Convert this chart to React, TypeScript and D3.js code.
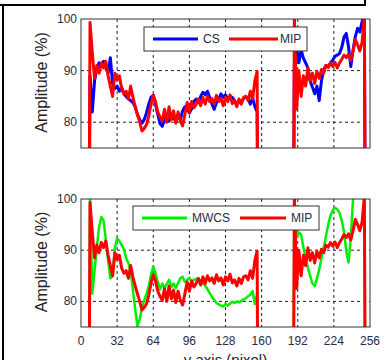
import React from "react";
import * as d3 from "d3";

// pixel positions along the y axis (two segments with signal)
const pixelsLeft = d3.range(6, 159, 2);
const pixelsRight = d3.range(187, 254, 2);

const xTicks = [0, 32, 64, 96, 128, 160, 192, 224, 256];
const yTicks = [80, 90, 100];

// MIP amplitude (%) - same curve in both panels
const mipLeft = [
  0, 99.3, 93.5, 88.5, 91, 89.5, 91.5, 90.5, 91.8, 89,
  87, 85, 89.5, 88.2, 89, 86.5, 85.5, 86, 84.5, 87,
  84.8, 83, 81.5, 80, 78.3, 78.8, 79.5, 81.2, 83.5, 85.2,
  84, 82, 81, 80.2, 82.5, 80, 83, 80.5, 82.2, 79.8,
  82, 80.2, 79.3, 81.5, 83.8, 82, 84, 82.8, 83.5, 84.5,
  83.2, 84.8, 83.5, 85, 84, 84.6, 83.5, 85.2, 84, 84.6,
  83.2, 84.8, 84, 85.3, 83.6, 84.2, 83, 84.5, 83.5, 84.8,
  85, 84.2, 86, 84.5, 88, 89.8, 0,
];
const mipRight = [
  0, 101, 82.5, 90, 85, 89, 87, 90.5, 88, 89.5,
  87.5, 89.8, 88.5, 90.2, 89.5, 91, 90.6, 91.5, 90.8, 91.6,
  90.5, 91.5, 92.2, 93, 92.5, 93.2, 92, 93.8, 96, 95,
  93.8, 95.5, 100.5, 0,
];

// CS amplitude (%)
const csLeft = [
  0, 89, 82, 88, 90.5, 91.5, 91, 91.8, 90.5, 89.5,
  92.5, 87.5, 86.5, 87, 86, 86.8, 85.5, 85, 84.5, 84.2,
  83.8, 83, 81.5, 80.5, 79.8, 80.5, 81.8, 83.5, 84.8, 85.2,
  83.5, 81.5, 79.7, 79.2, 80.5, 81, 80.2, 81.5, 80.8, 80.2,
  81.2, 80.5, 82.2, 83, 82.5, 81.8, 82.6, 84, 84.5, 83.8,
  85, 85.8, 85.3, 86, 84.8, 83.5, 82.5, 83.8, 84.5, 85.5,
  84.8, 85.3, 84.5, 85, 84.8, 84.2, 83.5, 84, 83.8, 84.6,
  85, 84.5, 83.5, 84.8, 83, 82, 0,
];
const csRight = [
  0, 91, 94.5, 91.5, 94, 92.4, 91.5, 90.5, 88, 86.8,
  85.5, 87, 84.2, 88, 90.2, 91, 90.8, 91.5, 92, 92.8,
  93, 93.3, 94.5, 96.5, 97.2, 94.6, 90.8, 94, 96.6, 98.2,
  97.5, 99.5, 101, 0,
];

// MWCS amplitude (%)
const mwcsLeft = [
  0, 100.5, 81.5, 86, 90.5, 94.5, 96.5, 95.8, 92, 88,
  84.5, 85, 90.5, 92.3, 91.8, 91, 90.2, 88.5, 87.5, 85.8,
  82.2, 78.5, 75.2, 76.5, 78.8, 80.2, 81.5, 83, 85.2, 86.8,
  85.5, 83.8, 82.3, 83.5, 82.6, 83.4, 84.2, 82.8, 83.5, 82.6,
  83.6, 84.5, 84.8, 83.8, 84.2, 84.6, 83.8, 84.2, 84.4, 83.9,
  84.1, 83.5, 83.1, 82.4, 81.6, 80.9, 80.3, 79.7, 79.4, 79.2,
  79, 79.5, 79.2, 79.6, 79.9, 79.7, 80, 79.8, 80.1, 80.4,
  80.6, 81, 81.3, 82, 79.5, 81.5, 0,
];
const mwcsRight = [
  0, 99.5, 92.5, 93.5, 93, 90.5, 88.5, 86.5, 85, 83.5,
  83, 84.5, 86.2, 88.5, 90.5, 92.8, 95, 96.8, 97.8, 98.3,
  98, 97.3, 95.8, 93.5, 89.8, 87.6, 92.5, 100, 104, 106,
  106, 105, 103, 0,
];

const W = 388;
const H = 360;
const left = 81;
const right = 370;
const font = "'Liberation Sans', Arial, sans-serif";
const textColor = "#2a2a44";

type Series = { name: string; color: string; width: number; left: number[]; right: number[] };

const panels = [
  {
    id: "top",
    top: 19,
    bottom: 148,
    series: [
      { name: "CS", color: "#0000ff", width: 3, left: csLeft, right: csRight },
      { name: "MIP", color: "#ff0000", width: 3, left: mipLeft, right: mipRight },
    ] as Series[],
    legend: { x: 144, y: 27, w: 163, h: 24 },
  },
  {
    id: "bottom",
    top: 199,
    bottom: 327,
    series: [
      { name: "MWCS", color: "#00ee00", width: 2.5, left: mwcsLeft, right: mwcsRight },
      { name: "MIP", color: "#ff0000", width: 3, left: mipLeft, right: mipRight },
    ] as Series[],
    legend: { x: 133, y: 206, w: 186, h: 24 },
  },
];

const x = d3.scaleLinear().domain([0, 256]).range([left, right]);

function Panel({ p, showX }: { p: (typeof panels)[number]; showX: boolean }) {
  const y = d3.scaleLinear().domain([75, 100]).range([p.bottom, p.top]);
  const line = d3
    .line<[number, number]>()
    .x((d) => x(d[0]))
    .y((d) => y(d[1]));
  const clipId = "clip-" + p.id;
  const cy = (p.top + p.bottom) / 2 - 1;

  // legend layout: line, label, line, label
  const lg = p.legend;
  const names = p.series.map((s) => s.name);
  const isTop = p.id === "top";
  const segs = isTop
    ? [
        { x1: 153, x2: 198, tx: 203 },
        { x1: 229, x2: 278, tx: 280 },
      ]
    : [
        { x1: 142, x2: 187, tx: 192 },
        { x1: 240, x2: 286, tx: 291 },
      ];

  return (
    <g>
      <defs>
        <clipPath id={clipId}>
          <rect x={left} y={p.top} width={right - left} height={p.bottom - p.top} />
        </clipPath>
      </defs>
      <rect x={left} y={p.top} width={right - left} height={p.bottom - p.top} fill="#fff" />
      {/* grid */}
      {xTicks.slice(1, -1).map((t) => (
        <line key={"gx" + t} x1={x(t)} x2={x(t)} y1={p.top} y2={p.bottom}
          stroke="#222" strokeDasharray="3,3" strokeWidth={1} />
      ))}
      {yTicks.slice(0, -1).map((t) => (
        <line key={"gy" + t} x1={left} x2={right} y1={y(t)} y2={y(t)}
          stroke="#222" strokeDasharray="3,3" strokeWidth={1} />
      ))}
      {/* series */}
      <g clipPath={`url(#${clipId})`}>
        {p.series.map((s) => (
          <g key={s.name}>
            <path d={line(pixelsLeft.map((px, i) => [px, s.left[i]]) as [number, number][]) || ""}
              fill="none" stroke={s.color} strokeWidth={s.width} strokeLinejoin="round" />
            <path d={line(pixelsRight.map((px, i) => [px, s.right[i]]) as [number, number][]) || ""}
              fill="none" stroke={s.color} strokeWidth={s.width} strokeLinejoin="round" />
          </g>
        ))}
      </g>
      {/* frame */}
      <rect x={left} y={p.top} width={right - left} height={p.bottom - p.top}
        fill="none" stroke="#333" strokeWidth={1} />
      {/* y ticks */}
      {yTicks.map((t) => (
        <text key={"ty" + t} x={left - 4} y={y(t)} textAnchor="end" dominantBaseline="central"
          fontFamily={font} fontSize={12} fill={textColor}>{t}</text>
      ))}
      <text transform={`translate(47,${cy}) rotate(-90)`} textAnchor="middle"
        fontFamily={font} fontSize={16} fill="#222">Amplitude (%)</text>
      {showX &&
        xTicks.map((t) => (
          <text key={"tx" + t} x={x(t)} y={345} textAnchor="middle"
            fontFamily={font} fontSize={12} fill={textColor}>{t}</text>
        ))}
      {/* legend */}
      <rect x={lg.x} y={lg.y} width={lg.w} height={lg.h} fill="#fff" stroke="#333" strokeWidth={1} />
      {p.series.map((s, i) => (
        <g key={"lg" + i}>
          <line x1={segs[i].x1} x2={segs[i].x2} y1={lg.y + lg.h / 2} y2={lg.y + lg.h / 2}
            stroke={s.color} strokeWidth={3} />
          <text x={segs[i].tx} y={lg.y + lg.h / 2} dominantBaseline="central"
            fontFamily={font} fontSize={12} fill={textColor}>{names[i]}</text>
        </g>
      ))}
    </g>
  );
}

export default function App() {
  return (
    <svg width={W} height={H} style={{ position: "absolute", left: 0, top: 0, background: "#fff" }}>
      <rect x={0} y={0} width={W} height={H} fill="#fff" />
      {/* surrounding table borders */}
      <line x1={0} x2={366} y1={5} y2={5} stroke="#000" strokeWidth={2} />
      <line x1={365} x2={365} y1={0} y2={6} stroke="#000" strokeWidth={2} />
      <line x1={3} x2={3} y1={4} y2={H} stroke="#000" strokeWidth={2} />
      <Panel p={panels[0]} showX={false} />
      <Panel p={panels[1]} showX={true} />
      <text x={(left + right) / 2} y={365} textAnchor="middle" fontFamily={font} fontSize={15} fill="#222">
        y axis (pixel)
      </text>
    </svg>
  );
}
